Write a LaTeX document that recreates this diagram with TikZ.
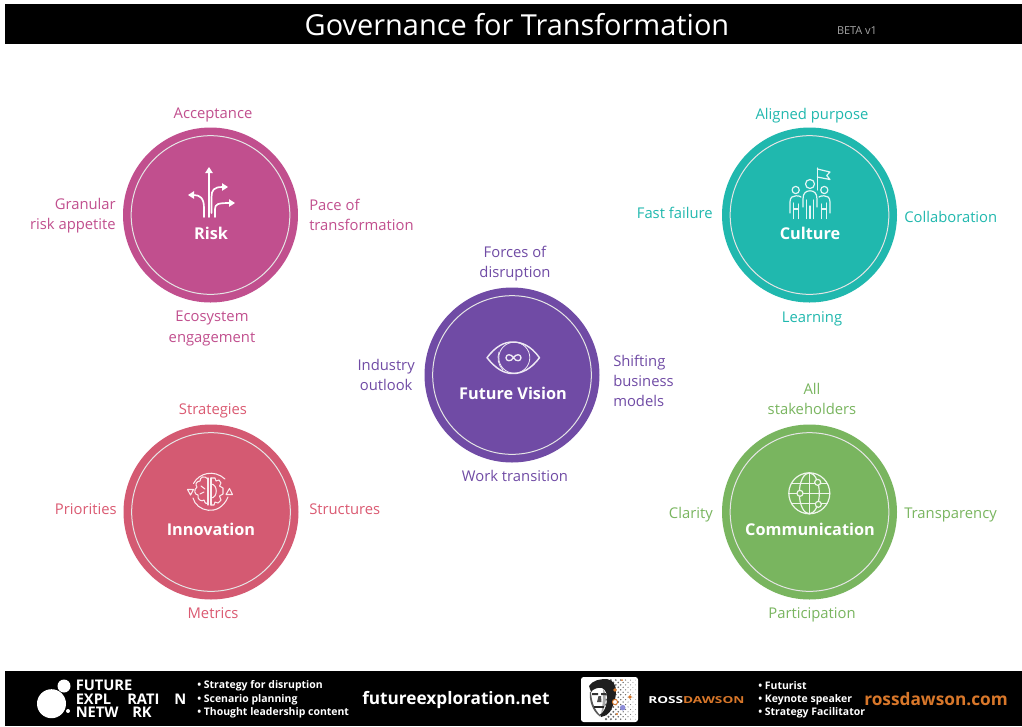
\documentclass[tikz,border=0pt]{standalone}
\usepackage{fontspec}
\setmainfont{Open Sans}
\usetikzlibrary{arrows.meta}
\definecolor{riskc}{HTML}{C14F8E}
\definecolor{cultc}{HTML}{20B8AE}
\definecolor{innoc}{HTML}{D45A72}
\definecolor{commc}{HTML}{79B55F}
\definecolor{visc}{HTML}{704BA5}
\definecolor{orangec}{HTML}{D8772A}
\definecolor{labinno}{HTML}{DB5A72}
\tikzset{
  x=0.75pt,y=-0.75pt,
  disc/.style={circle,inner sep=0pt,minimum size=131.25pt,fill=#1},
  ring/.style={circle,inner sep=0pt,minimum size=119pt,draw=white!90!black,line width=0.75pt},
  lab/.style={font=\fontsize{11.1}{14}\selectfont,text=#1,inner sep=0pt},
  head/.style={font=\bfseries\fontsize{12.2}{15}\selectfont,text=white,inner sep=0pt},
  ico/.style={draw=white,line width=1.25pt,line cap=round,line join=round},
  icon/.style={draw=white!88!#1,line width=0.9pt,line cap=round,line join=round},
  foot/.style={font=\bfseries\fontsize{7.85}{10}\selectfont,text=white,inner sep=0pt,anchor=west},
  logo/.style={font=\bfseries\fontsize{11}{12}\selectfont,text=white,inner sep=0pt,anchor=west},
  tipa/.style={-{Triangle[length=4.5pt,width=5.5pt]}}
}
\begin{document}
\begin{tikzpicture}
\useasboundingbox (0,0) rectangle (1022,726);
\fill[white] (0,0) rectangle (1022,726);
% bands
\fill[black] (5,4) rectangle (1022,44);
\fill[black] (5,671) rectangle (1022,726);
\node[text=white,inner sep=0pt,font=\fontsize{21.7}{24}\selectfont] (title) at (517,25) {Governance for Transformation};
\node[text=black!35,inner sep=0pt,font=\fontsize{8.2}{9}\selectfont] (beta) at (857,31) {BETA v1};
% discs
\node[disc=riskc] (risk) at (210.5,215) {};
\node[ring] (riskr) at (210.5,215) {};
\node[disc=cultc] (cult) at (809.5,215) {};
\node[ring] (cultr) at (809.5,215) {};
\node[disc=innoc] (inno) at (211,512) {};
\node[ring] (innor) at (211,512) {};
\node[disc=commc] (comm) at (809.5,512) {};
\node[ring] (commr) at (809.5,512) {};
\node[disc=visc] (vis) at (512,375) {};
\node[ring] (visr) at (512,375) {};
% headings
\node[head] (riskh) at (211,233) {Risk};
\node[head] (culth) at (810,233) {Culture};
\node[head] (innoh) at (211,529) {Innovation};
\node[head] (commh) at (810,529) {Communication};
\node[head] (vish) at (513,393) {Future Vision};
% risk icon
\draw[ico,tipa] (209,217) -- (209,167);
\draw[ico,tipa] (211.5,213) -- (211.5,197) .. controls (211.5,190) and (214,187) .. (228,187);
\draw[ico,tipa] (204,217) -- (204,208) .. controls (204,198) and (200,195) .. (188,195);
\draw[ico,tipa] (215,217) -- (215,209) .. controls (215,204) and (218,203) .. (235,203);
% culture icon
\begin{scope}[icon=cultc]
\draw (810,184) circle (4.5);
\draw (795.7,190) circle (3.6);
\draw (824.3,190) circle (3.6);
\draw (803,207) -- (803,199) .. controls (803,193) and (806,190.8) .. (810,190.8) .. controls (814,190.8) and (817,193) .. (817,199) -- (817,207);
\draw (806.5,200) -- (806.5,218.5) (813.5,200) -- (813.5,218.5) (810,206) -- (810,218.5);
\draw (790,213) -- (790,202) .. controls (790,197) and (793,195.8) .. (796,195.8) .. controls (798,195.8) and (800,196) .. (801,197);
\draw (793.5,203) -- (793.5,218.5) (798.5,204) -- (798.5,218.5) (793.5,209) -- (798.5,209);
\draw (1620-790,213) -- (1620-790,202) .. controls (1620-790,197) and (1620-793,195.8) .. (1620-796,195.8) .. controls (1620-798,195.8) and (1620-800,196) .. (1620-801,197);
\draw (1620-793.5,203) -- (1620-793.5,218.5) (1620-798.5,204) -- (1620-798.5,218.5) (1620-793.5,209) -- (1620-798.5,209);
\draw (817.3,168) -- (817.3,190);
\draw (817.3,169) -- (830,172) -- (826.7,175.5) -- (830,179.5) -- (817.3,177);
\end{scope}
% innovation icon
\begin{scope}[draw=white!88!innoc,line width=0.8pt,line cap=round,line join=round]
\draw (193.5,483.5) .. controls (199,473) and (214,469) .. (225,479);
\draw (193,498) .. controls (196,511) and (219,518) .. (228,497);
\draw (190.5,495) -- (187.5,489.5) -- (193.5,489.5) -- cycle;
\draw (229.5,488.5) -- (226,494.5) -- (232.5,494.5) -- cycle;
\draw (208,478) -- (208,505) (211,478) -- (211,505);
\draw (208,479) .. controls (204,475) and (200,477) .. (200,481) .. controls (196,481) and (195,485) .. (197,487) .. controls (193,490) and (195,495) .. (198,495) .. controls (197,500) and (202,502) .. (204,500) .. controls (205,504) and (207,504) .. (208,503);
\draw (211,484) .. controls (218,484) and (218,498) .. (211,498);
\draw (211,478) -- (215,478) -- (216,481) -- (219,480) -- (221,483) -- (219.5,486) -- (223,488) -- (223,494) -- (219.5,496) -- (221,500) -- (218,503) -- (215,502) -- (214,505) -- (211,505);
\draw (201,486) -- (205,489) (200,494) -- (204,492);
\end{scope}
% communication icon
\begin{scope}[icon=commc]
\draw (809.3,493.3) circle (20.5);
\draw (809.3,493.3) ellipse (10 and 20.5);
\draw (809.3,472.8) -- (809.3,513.8);
\draw (789,493.3) -- (829.8,493.3);
\draw (791.4,483.3) -- (827.2,483.3) (791.4,503.3) -- (827.2,503.3);
\fill[commc] (817.7,482.3) circle (3) (800,493.3) circle (3) (818.3,504.3) circle (3);
\draw (817.7,482.3) circle (3) (800,493.3) circle (3) (818.3,504.3) circle (3);
\end{scope}
% vision icon
\begin{scope}[icon=visc]
\draw[line width=1.1pt] (487,357.7) .. controls (496,346) and (504,342) .. (513,342) .. controls (522,342) and (531,346) .. (539.5,357.7) .. controls (531,369) and (522,373.5) .. (513,373.5) .. controls (504,373.5) and (496,369) .. (487,357.7) -- cycle;
\draw[line width=0.6pt] (514.3,357.7) circle (15.5);
\draw[line width=0.6pt] (499,352) .. controls (497,358) and (498,365) .. (503,370);
\draw[line width=1pt] (513.5,357.7) .. controls (511,353.5) and (506,354) .. (506,357.7) .. controls (506,361.5) and (511,362) .. (513.5,357.7) .. controls (516,353.5) and (521,354) .. (521,357.7) .. controls (521,361.5) and (516,362) .. (513.5,357.7) -- cycle;
\end{scope}
% risk labels
\node[lab=riskc] (r1) at (213,115) {Acceptance};
\node[lab=riskc,anchor=east,align=right] (r2) at (116,216) {Granular\\[1.1pt]risk appetite};
\node[lab=riskc,anchor=west,align=left] (r3) at (309,215) {Pace of\\[1.1pt]transformation};
\node[lab=riskc,align=center] (r4) at (212,328.5) {Ecosystem\\[1.1pt]engagement};
% culture labels
\node[lab=cultc] (c1) at (812,116) {Aligned purpose};
\node[lab=cultc,anchor=east] (c2) at (713,213) {Fast failure};
\node[lab=cultc,anchor=west] (c3) at (904,217) {Collaboration};
\node[lab=cultc] (c4) at (812,318.5) {Learning};
% vision labels
\node[lab=visc,align=center] (v1) at (515,264) {Forces of\\[1.1pt]disruption};
\node[lab=visc,anchor=east,align=center] (v2) at (415,375) {Industry\\[1.1pt]outlook};
\node[lab=visc,anchor=west,align=left] (v3) at (613,381) {Shifting\\[1.1pt]business\\[1.1pt]models};
\node[lab=visc] (v4) at (515,476) {Work transition};
% innovation labels
\node[lab=labinno] (i1) at (213,411) {Strategies};
\node[lab=labinno,anchor=east] (i2) at (117,509) {Priorities};
\node[lab=labinno,anchor=west] (i3) at (309,509) {Structures};
\node[lab=labinno] (i4) at (213,613) {Metrics};
% communication labels
\node[lab=commc,align=center] (m1) at (812,399) {All\\[1.1pt]stakeholders};
\node[lab=commc,anchor=east] (m2) at (713,515) {Clarity};
\node[lab=commc,anchor=west] (m3) at (904,515) {Transparency};
\node[lab=commc] (m4) at (812,615) {Participation};
% footer left
\fill[white] (51.5,703.7) circle (14.5) (64,686) circle (6.5) (68,711) circle (2);
\node[logo] (l1) at (75.5,685.5) {FUTURE};
\node[logo] (l2) at (75.5,699) {EXPL};
\node[logo] (l3) at (127,699) {RATI};
\node[logo] (l4) at (174,699) {N};
\node[logo] (l5) at (75.5,712) {NETW};
\node[logo] (l6) at (132,712) {RK};
\node[foot] (f1) at (197,685.5) {• Strategy for disruption};
\node[foot] (f2) at (197,699.5) {• Scenario planning};
\node[foot] (f3) at (197,713) {• Thought leadership content};
\node[inner sep=0pt,anchor=west,text=white,font=\bfseries\fontsize{12.9}{16}\selectfont] (web1) at (362,699.5) {futureexploration.net};
% portrait
\fill[white,rounded corners=2pt] (581,677) rectangle (638,722);
\foreach \x in {0,...,12}{\foreach \y in {0,...,16}{
  \pgfmathsetmacro{\rad}{max(0.25,1.25-0.075*\x)}
  \ifodd\numexpr\x+\y\relax\else
  \fill[black!60] ({606+\x*2.45},{680+\y*2.45}) circle (\rad);
  \fi}}
\fill[black!88] (589,686) .. controls (593,680) and (600,679) .. (607,679) .. controls (613,680) and (616,685) .. (616,691) .. controls (616,698) and (614,703) .. (612,708) .. controls (610,713) and (606,716) .. (601,717) -- (600,714.5) .. controls (604,712) and (606.5,707) .. (607,700) .. controls (607.5,694) and (606,690) .. (602,688) .. controls (598,687) and (593,689) .. (591,692) -- cycle;
\fill[black!65] (590,692) .. controls (589,700) and (592,711) .. (600,716.5) -- (600,715) .. controls (594,709) and (591.5,701) .. (591,692) -- cycle;
\fill[black!35] (603,689) .. controls (607,693) and (607,706) .. (601,714) .. controls (603,705) and (603,697) .. (603,689) -- cycle;
\fill[black!80] (592,693) rectangle (598,695) (601,693) rectangle (606,695);
\fill[black!70] (598.5,696) -- (601,696) -- (601.5,702) -- (597,702) -- cycle;
\fill[black!85] (594,706) rectangle (604,707.5);
\fill[orangec] (615,690) circle (1.9) (630,697) circle (1.9) (617,714) circle (1.2) (622,680) circle (1);
\fill[white] (615,702) circle (2.6);
\draw[orangec,line width=0.7pt] (615,702) circle (2.6);
\fill[black!35!blue!45] (622.7,707.7) circle (2.8);
\node[inner sep=0pt,anchor=west,font=\bfseries\fontsize{7.2}{9}\selectfont] (rd) at (648,700.5) {\scalebox{1.42}[1]{\textcolor{white}{ROSS}\textcolor{orangec}{DAWSON}}};
\node[foot] (f4) at (758,685.5) {• Futurist};
\node[foot] (f5) at (758,699.5) {• Keynote speaker};
\node[foot] (f6) at (758,713) {• Strategy Facilitator};
\node[inner sep=0pt,anchor=west,text=orangec,font=\bfseries\fontsize{12.95}{16}\selectfont] (web2) at (864,699.5) {rossdawson.com};
\end{tikzpicture}
\end{document}
